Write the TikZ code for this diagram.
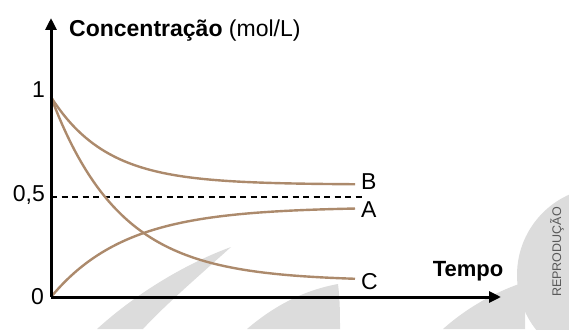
\documentclass[tikz,border=0pt]{standalone}
\usepackage{fontspec}
\setmainfont{Liberation Sans}
\usetikzlibrary{arrows.meta, positioning}

\definecolor{curvebrown}{RGB}{172,138,108}
\definecolor{markgray}{RGB}{220,220,220}

\begin{document}
\begin{tikzpicture}[x=1pt, y=-1pt, >={Triangle[length=12pt,width=11pt]}]
  \tikzset{
    axis/.style={line width=3pt, ->},
    curve/.style={line width=2.4pt, curvebrown},
    ref/.style={line width=2.6pt, dash pattern=on 6pt off 4.5pt},
    tick/.style={font=\fontsize{23}{26}\selectfont, anchor=east, inner sep=1pt},
    tag/.style={font=\fontsize{23}{26}\selectfont, anchor=west, inner sep=1pt},
    title/.style={font=\fontsize{23}{26}\selectfont, anchor=west, inner sep=0pt}
  }
  \useasboundingbox (0,0) rectangle (569,329);

  % watermark
  \fill[markgray] (97,329) .. controls (140,290) and (190,262) .. (231,247)
    .. controls (200,275) and (165,305) .. (143,329) -- cycle;
  \fill[markgray] (247,329) .. controls (275,305) and (305,290) .. (338,284)
    .. controls (340,300) and (340,315) .. (340,329) -- cycle;
  \fill[markgray] (443,329) .. controls (470,305) and (500,290) .. (525,282)
    -- (525,329) -- cycle;
  \begin{scope}
    \clip (0,0) rectangle (569,329);
    \fill[markgray] (605,275) circle (88);
  \end{scope}
  \node[rotate=90, text=black!65, font=\fontsize{12.5}{14}\selectfont] (repro) at (557,252) {REPRODUÇÃO};

  \coordinate (O) at (51,297);
  \coordinate (ytop) at (51,18);
  \coordinate (xend) at (501,297);
  \coordinate (half) at (51,197);
  \coordinate (halfend) at (363,197);

  \draw[ref] (half) -- (halfend);

  \draw[curve] plot[domain=0:304, samples=80]
    ({51+\x}, {297-200*(0.562+0.438*exp(-0.018*\x))}) coordinate (endB);
  \draw[curve] plot[domain=0:304, samples=80]
    ({51+\x}, {297-200*(0.45*(1-exp(-0.0134*\x)))}) coordinate (endA);
  \draw[curve] plot[domain=0:304, samples=80]
    ({51+\x}, {297-200*(0.08+0.92*exp(-0.0145*\x))}) coordinate (endC);

  \draw[axis] (O) -- (ytop);
  \draw[axis] (O) -- (xend);

  \node[tick] (one) at (46,90) {1};
  \node[tick] (fifty) at (46,195) {0,5};
  \node[tick] (zero) at (45,297) {0};

  \node[tag] (lblB) at (360,182) {B};
  \node[tag] (lblA) at (360,210) {A};
  \node[tag] (lblC) at (360,282) {C};

  \node[title] (conc) at (69,31) {\textbf{Concentração} (mol/L)};
  \node[font=\bfseries\fontsize{22}{26}\selectfont] (tempo) at (468,271) {Tempo};
\end{tikzpicture}
\end{document}
